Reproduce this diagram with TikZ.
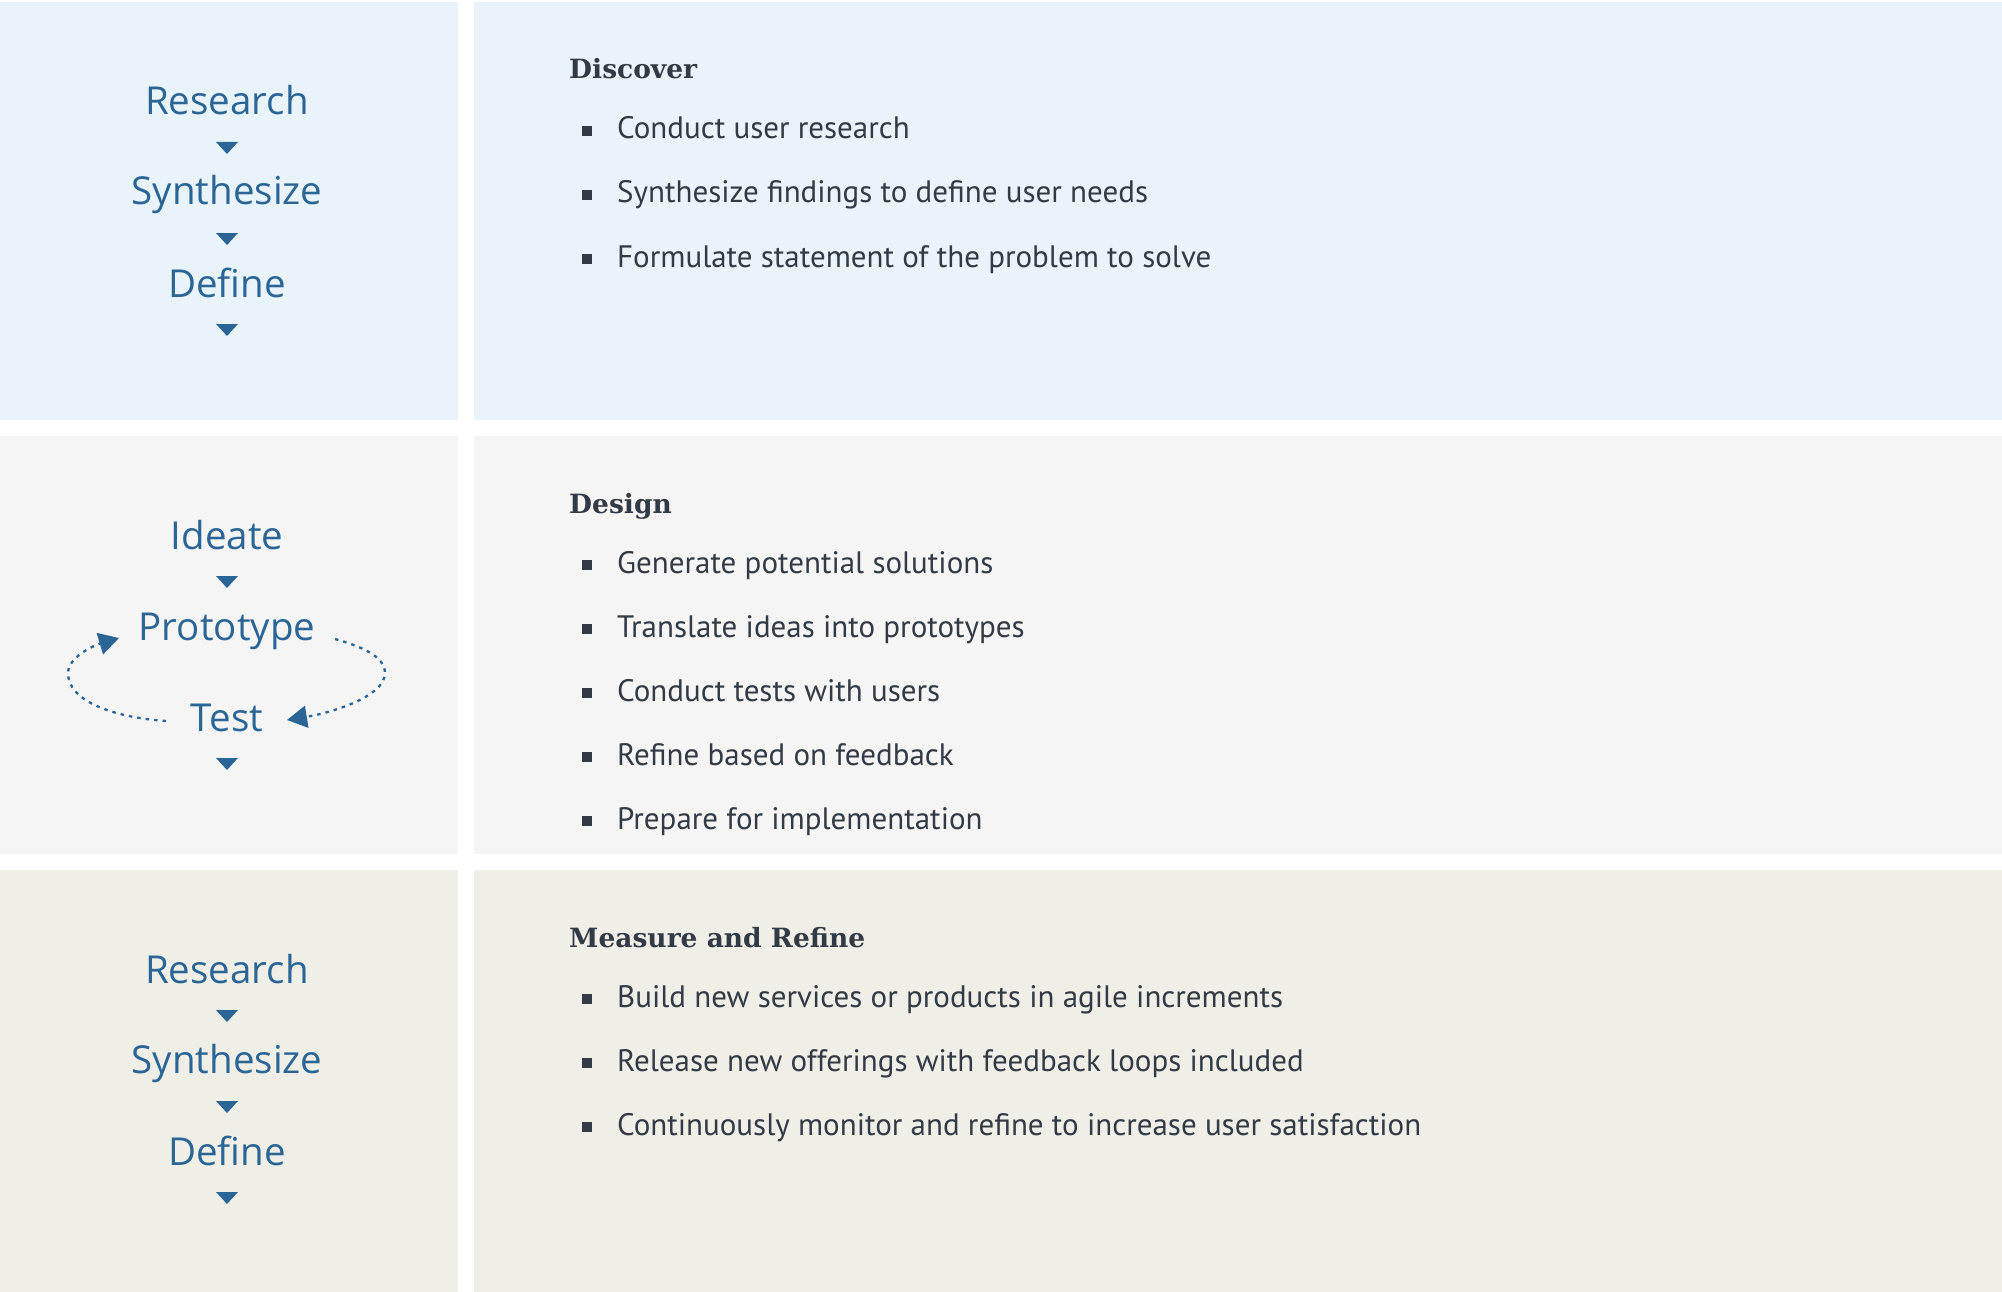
\documentclass[tikz,border=0pt]{standalone}
\usepackage{fontspec}
\setmainfont{PT Sans}
\newfontfamily\stepfont{Open Sans}
\newfontfamily\headfont{DejaVu Serif}
\usetikzlibrary{arrows.meta}

\definecolor{stepblue}{HTML}{2B6596}
\definecolor{ink}{HTML}{323A45}
\definecolor{bgdiscover}{HTML}{E8F4F9}
\definecolor{bgdesign}{HTML}{F5F5F5}
\definecolor{bgmeasure}{HTML}{EFEFE7}

\tikzset{
  stepword/.style={font=\stepfont\fontsize{38.5}{46}\selectfont, text=stepblue, anchor=base, inner sep=0pt},
  phasehead/.style={font=\headfont\bfseries\fontsize{26.5}{31}\selectfont, text=ink, anchor=base west, inner sep=0pt},
  itemtext/.style={font=\fontsize{31}{38}\selectfont, text=ink, anchor=base west, inner sep=0pt},
  caret/.style={fill=stepblue},
  loopline/.style={draw=stepblue, line width=2.3pt, dash pattern=on 3.5pt off 5pt,
                   -{Triangle[length=20pt,width=22pt,fill=stepblue]}},
}

% caret below a step word: #1 = top edge of the triangle
\newcommand\stepcaret[1]{\fill[caret] (216,#1) -- (238,#1) -- (227,#1+12) -- cycle;}
% square bullet followed by its text: #1 = name, #2 = baseline, #3 = text
\newcommand\bulletitem[3]{%
  \fill[ink] (582,#2-13) rectangle (592,#2-3);
  \node[itemtext] (#1) at (617,#2) {#3};}

\begin{document}
\begin{tikzpicture}[x=1pt,y=-1pt]
\useasboundingbox (0,0) rectangle (2002,1292);
\fill[white] (0,0) rectangle (2002,1292);

% panels
\fill[bgdiscover] (0,2) rectangle (458,420);
\fill[bgdiscover] (474,2) rectangle (2002,420);
\fill[bgdesign] (0,436) rectangle (458,854);
\fill[bgdesign] (474,436) rectangle (2002,854);
\fill[bgmeasure] (0,870) rectangle (458,1292);
\fill[bgmeasure] (474,870) rectangle (2002,1292);

% Discover: steps
\node[stepword] (d1) at (227,115) {Research};
\stepcaret{142}
\node[stepword] (d2) at (227,205) {Synthesize};
\stepcaret{233}
\node[stepword] (d3) at (227,297) {Define};
\stepcaret{324}

% Discover: description
\node[phasehead] (dh) at (569,79) {Discover};
\bulletitem{di1}{139}{Conduct user research}
\bulletitem{di2}{203}{Synthesize findings to define user needs}
\bulletitem{di3}{267}{Formulate statement of the problem to solve}

% Design: steps
\node[stepword] (g1) at (227,549) {Ideate};
\stepcaret{576}
\node[stepword] (g2) at (227,640) {Prototype};
\node[stepword] (g3) at (227,731) {Test};
\stepcaret{758}

% Design: iteration loop between Prototype and Test
\coordinate (testleft) at (166,721);
\coordinate (protoleft) at (119,638);
\coordinate (protoright) at (335,639);
\coordinate (testright) at (287,720);
\draw[loopline] (testleft) .. controls (110,717) and (68,700) .. (68,673)
  .. controls (68,658) and (92,646) .. (protoleft);
\draw[loopline] (protoright) .. controls (360,646) and (385,656) .. (385,673)
  .. controls (385,697) and (330,713) .. (testright);

% Design: description
\node[phasehead] (gh) at (569,513) {Design};
\bulletitem{gi1}{573}{Generate potential solutions}
\bulletitem{gi2}{637}{Translate ideas into prototypes}
\bulletitem{gi3}{701}{Conduct tests with users}
\bulletitem{gi4}{765}{Refine based on feedback}
\bulletitem{gi5}{829}{Prepare for implementation}

% Measure and Refine: steps
\node[stepword] (m1) at (227,983) {Research};
\stepcaret{1010}
\node[stepword] (m2) at (227,1073) {Synthesize};
\stepcaret{1101}
\node[stepword] (m3) at (227,1165) {Define};
\stepcaret{1192}

% Measure and Refine: description
\node[phasehead] (mh) at (569,947) {Measure and Refine};
\bulletitem{mi1}{1007}{Build new services or products in agile increments}
\bulletitem{mi2}{1071}{Release new offerings with feedback loops included}
\bulletitem{mi3}{1135}{Continuously monitor and refine to increase user satisfaction}
\end{tikzpicture}
\end{document}
